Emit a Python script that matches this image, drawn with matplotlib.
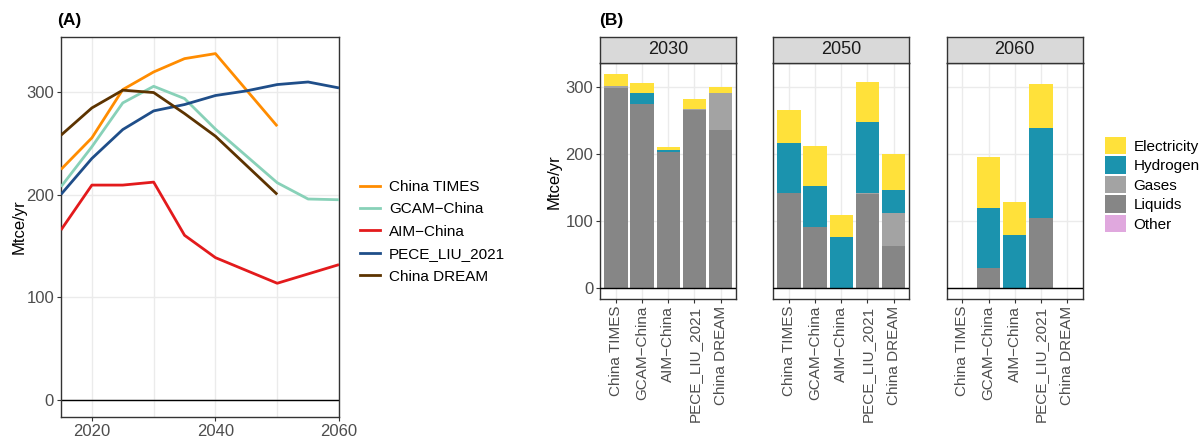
import matplotlib
matplotlib.use("Agg")
import matplotlib.pyplot as plt
import numpy as np
from matplotlib.patches import Patch
from matplotlib.lines import Line2D

plt.rcParams['font.family'] = ['Liberation Sans', 'DejaVu Sans']

# (A) total transport energy by model, Mtce/yr
models = ['China TIMES', 'GCAM\u2212China', 'AIM\u2212China', 'PECE_LIU_2021', 'China DREAM']
line_colors = ['#FF8C00', '#88D1B8', '#E31A1C', '#1F4E89', '#5C3300']

times_years = [2015, 2020, 2025, 2030, 2035, 2040, 2050]
times_vals = [224.7, 255.5, 302.6, 319.8, 332.8, 337.7, 266.9]
gcam_years = [2015, 2020, 2025, 2030, 2035, 2040, 2050, 2055, 2060]
gcam_vals = [207.8, 246.8, 289.6, 305.8, 293.8, 264.0, 211.7, 195.8, 195.1]
aim_years = [2015, 2020, 2025, 2030, 2035, 2040, 2050, 2055, 2060]
aim_vals = [165.6, 209.4, 209.4, 212.3, 160.4, 138.6, 113.6, 122.7, 131.8]
pece_years = [2015, 2020, 2025, 2030, 2035, 2040, 2045, 2050, 2055, 2060]
pece_vals = [200.3, 235.4, 263.6, 281.8, 288.0, 296.8, 301.3, 307.5, 310.0, 304.2]
dream_years = [2015, 2020, 2025, 2030, 2035, 2040, 2050]
dream_vals = [258.1, 284.7, 302.0, 299.7, 279.2, 257.1, 200.3]

series_years = [times_years, gcam_years, aim_years, pece_years, dream_years]
series_vals = [times_vals, gcam_vals, aim_vals, pece_vals, dream_vals]

# (B) fuel mix by model for three years (order: China TIMES, GCAM, AIM, PECE, DREAM)
facet_years = ['2030', '2050', '2060']
fuels = ['Other', 'Liquids', 'Gases', 'Hydrogen', 'Electricity']
fuel_colors = {'Electricity': '#FFE13A', 'Hydrogen': '#1B93AE', 'Gases': '#A3A3A3',
               'Liquids': '#868686', 'Other': '#E0A8DE'}

other = {'2030': [1, 0, 0, 0, 0], '2050': [0, 0, 0, 0, 0], '2060': [0, 0, 0, 0, 0]}
liquids = {'2030': [297, 274.7, 202.2, 265.3, 235.5],
           '2050': [141.6, 90.9, 0, 140.6, 62.6],
           '2060': [0, 30.3, 0, 104.8, 0]}
gases = {'2030': [3, 0, 0, 1.7, 54.6],
         '2050': [0, 0, 0, 1.0, 49.7],
         '2060': [0, 0, 0, 0, 0]}
hydrogen = {'2030': [0, 15.9, 3.0, 0, 0],
            '2050': [74.5, 61.1, 76.0, 105.8, 33.7],
            '2060': [0, 88.9, 79.0, 133.7, 0]}
electricity = {'2030': [18, 14.9, 4.9, 14.7, 9.5],
               '2050': [49.2, 59.6, 32.8, 59.6, 53.7],
               '2060': [0, 76.0, 49.2, 65.5, 0]}
fuel_data = {'Other': other, 'Liquids': liquids, 'Gases': gases,
             'Hydrogen': hydrogen, 'Electricity': electricity}

W, H = 1201, 441
fig = plt.figure(figsize=(W / 100, H / 100), dpi=100)

def frac(left, top, right, bottom):
    return [left / W, (H - bottom) / H, (right - left) / W, (bottom - top) / H]

grid_c = '#EBEBEB'
tick_c = '#4D4D4D'
frame_c = '#333333'

# ---- panel A
axA = fig.add_axes(frac(61, 37, 339, 417))
for yrs, vals, col in zip(series_years, series_vals, line_colors):
    axA.plot(yrs, vals, color=col, lw=2.0, solid_capstyle='butt', zorder=3)
axA.axhline(0, color='black', lw=1.0, zorder=2)
axA.set_xlim(2015, 2060)
axA.set_ylim(-16.9, 353.9)
axA.set_xticks([2020, 2040, 2060])
axA.set_xticks([2030, 2050], minor=True)
axA.set_yticks([0, 100, 200, 300])
axA.grid(which='major', color=grid_c, lw=1.0, zorder=0)
axA.grid(which='minor', axis='x', color=grid_c, lw=1.0, zorder=0)
axA.set_axisbelow(True)
axA.tick_params(which='major', length=3, color=frame_c, labelcolor=tick_c, labelsize=12, pad=2)
axA.tick_params(which='minor', length=0)
for s in axA.spines.values():
    s.set_color(frame_c)
    s.set_linewidth(1.0)
axA.set_ylabel('Mtce/yr', fontsize=12, color='black', labelpad=0)
fig.text(57 / W, (H - 20) / H, '(A)', fontsize=12.5, fontweight='bold', va='center', ha='left')

handlesA = [Line2D([], [], color=c, lw=2.0) for c in line_colors]
fig.legend(handlesA, models, loc='center left', bbox_to_anchor=(360 / W, (H - 231.7) / H),
           frameon=False, fontsize=11, handlelength=1.3, handletextpad=0.6,
           labelspacing=0.55, borderpad=0, borderaxespad=0)

# ---- panel B
lefts = [600.3, 773.3, 946.7]
x = np.arange(1, len(models) + 1)
for i, (yr, l) in enumerate(zip(facet_years, lefts)):
    ax = fig.add_axes(frac(l, 63.3, l + 136, 299))
    bottom = np.zeros(len(models))
    for f in fuels:
        v = np.array(fuel_data[f][yr], dtype=float)
        ax.bar(x, v, width=0.9, bottom=bottom, color=fuel_colors[f], lw=0, zorder=3)
        bottom += v
    ax.axhline(0, color='black', lw=1.0, zorder=4)
    ax.set_xlim(0.4, 5.6)
    ax.set_ylim(-16, 335)
    ax.set_yticks([0, 100, 200, 300])
    ax.set_xticks(x)
    ax.set_xticklabels(models, rotation=90, fontsize=11, color=tick_c)
    ax.grid(color=grid_c, lw=1.0, zorder=0)
    ax.set_axisbelow(True)
    ax.tick_params(length=3, color=frame_c, labelcolor=tick_c, labelsize=12, pad=2)
    ax.tick_params(axis='x', labelsize=11)
    for s in ax.spines.values():
        s.set_color(frame_c)
        s.set_linewidth(1.0)
    if i == 0:
        ax.set_ylabel('Mtce/yr', fontsize=12, color='black', labelpad=3)
    else:
        ax.tick_params(axis='y', labelleft=False, length=0)
    # strip
    st = fig.add_axes(frac(l, 36.7, l + 136, 63.3))
    st.set_facecolor('#D9D9D9')
    st.set_xticks([])
    st.set_yticks([])
    for s in st.spines.values():
        s.set_color(frame_c)
        s.set_linewidth(1.0)
    st.text(0.5, 0.5, yr, ha='center', va='center', fontsize=13, color='#1A1A1A',
            transform=st.transAxes)

fig.text(599 / W, (H - 20) / H, '(B)', fontsize=12.5, fontweight='bold', va='center', ha='left')

legend_order = ['Electricity', 'Hydrogen', 'Gases', 'Liquids', 'Other']
handlesB = [Patch(facecolor=fuel_colors[f], edgecolor='none') for f in legend_order]
fig.legend(handlesB, legend_order, loc='center left', bbox_to_anchor=(1105 / W, (H - 184.5) / H),
           frameon=False, fontsize=11, handlelength=1.35, handleheight=1.4,
           handletextpad=0.5, labelspacing=0.12, borderpad=0, borderaxespad=0)

fig.savefig('out.png', dpi=100)
